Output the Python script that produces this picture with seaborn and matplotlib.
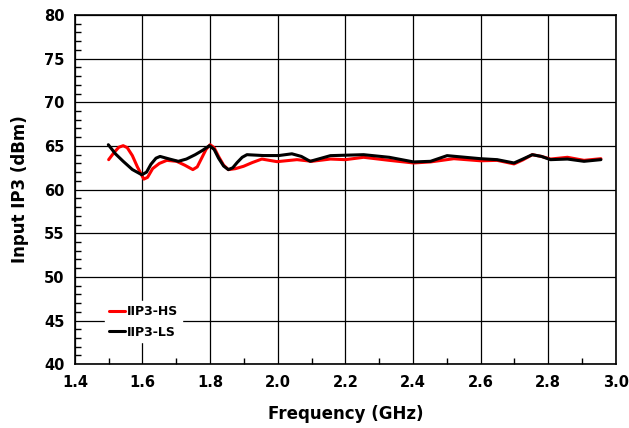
import numpy as np
import pandas as pd
import matplotlib.pyplot as plt
import seaborn as sns
from matplotlib.ticker import MultipleLocator, FormatStrFormatter

# datos
freq_hs = [1.50, 1.515, 1.53, 1.543, 1.555, 1.57, 1.585, 1.604, 1.615, 1.63, 1.65, 1.672, 1.701, 1.725,
           1.749, 1.762, 1.775, 1.788, 1.80, 1.812, 1.825, 1.84, 1.854, 1.875, 1.899, 1.925,
           1.953, 1.998, 2.057, 2.101, 2.156, 2.20, 2.254, 2.33, 2.402, 2.452, 2.521, 2.60, 2.649, 2.699,
           2.725, 2.753, 2.78, 2.807, 2.857, 2.906, 2.956]
iip3_hs = [63.43, 64.2, 64.85, 65.03, 64.8, 63.9, 62.6, 61.2, 61.4, 62.4, 63.0, 63.35, 63.24, 62.8,
           62.29, 62.6, 63.6, 64.6, 65.14, 64.8, 63.8, 62.8, 62.29, 62.4, 62.67, 63.1,
           63.5, 63.2, 63.43, 63.24, 63.5, 63.43, 63.7, 63.35, 63.05, 63.17, 63.54, 63.3, 63.35, 62.94,
           63.4, 64.0, 63.8, 63.5, 63.7, 63.35, 63.54]

freq_ls = [1.499, 1.52, 1.543, 1.57, 1.598, 1.612, 1.625, 1.64, 1.652, 1.68, 1.706, 1.73, 1.756, 1.778,
           1.798, 1.812, 1.825, 1.84, 1.854, 1.867, 1.88, 1.895, 1.909, 1.958,
           2.003, 2.042, 2.07, 2.096, 2.156, 2.254, 2.33, 2.402, 2.452, 2.501, 2.60, 2.649, 2.699, 2.725,
           2.753, 2.78, 2.807, 2.857, 2.906, 2.956]
iip3_ls = [65.14, 64.1, 63.24, 62.3, 61.7, 62.0, 62.9, 63.6, 63.8, 63.5, 63.24, 63.5, 64.0, 64.5,
           65.03, 64.6, 63.6, 62.7, 62.29, 62.5, 63.1, 63.7, 64.0, 63.9,
           63.9, 64.1, 63.8, 63.24, 63.89, 64.0, 63.7, 63.17, 63.24, 63.89, 63.54, 63.43, 63.05, 63.5,
           64.0, 63.8, 63.43, 63.5, 63.24, 63.43]

df = pd.concat([
    pd.DataFrame({'Frequency': freq_hs, 'IIP3': iip3_hs, 'Serie': 'IIP3-HS'}),
    pd.DataFrame({'Frequency': freq_ls, 'IIP3': iip3_ls, 'Serie': 'IIP3-LS'}),
])

sns.set_style("white")
plt.rcParams['font.family'] = ['DejaVu Sans']
plt.rcParams['font.weight'] = 'bold'
plt.rcParams['text.color'] = 'black'
plt.rcParams['axes.labelcolor'] = 'black'
plt.rcParams['xtick.color'] = 'black'
plt.rcParams['ytick.color'] = 'black'

f = plt.figure(figsize=(6.29, 4.28), dpi=100)
ax = f.add_axes([0.119, 0.149, 0.860, 0.816])

sns.lineplot(data=df, x='Frequency', y='IIP3', hue='Serie', palette=['#ff0000', '#000000'],
             linewidth=2.2, sort=False, estimator=None, ax=ax)

ax.set_xlim(1.4, 3.0)
ax.set_ylim(40, 80)
ax.xaxis.set_major_locator(MultipleLocator(0.2))
ax.xaxis.set_minor_locator(MultipleLocator(0.1))
ax.xaxis.set_major_formatter(FormatStrFormatter('%.1f'))
ax.yaxis.set_major_locator(MultipleLocator(5))
ax.yaxis.set_minor_locator(MultipleLocator(1))
ax.tick_params(which='major', direction='inout', length=8, width=1, labelsize=10.5,
               color='black', labelcolor='black')
ax.tick_params(which='minor', direction='in', length=4, width=1, color='black')
ax.tick_params(axis='x', which='minor', bottom=True)
ax.tick_params(axis='y', which='minor', left=True)
for lab in ax.get_xticklabels() + ax.get_yticklabels():
    lab.set_fontweight('bold')

ax.grid(True, which='major', color='black', linewidth=0.9)
for s in ax.spines.values():
    s.set_color('black')
    s.set_linewidth(1.2)

ax.set_xlabel("Frequency (GHz)", fontsize=12, fontweight='bold', color='black', labelpad=11)
ax.set_ylabel("Input IP3 (dBm)", fontsize=12, fontweight='bold', color='black', labelpad=11)

leg = ax.legend(loc='lower left', bbox_to_anchor=(0.045, 0.045), frameon=True, fontsize=9,
                handlelength=1.3, handletextpad=0.1, borderpad=0.3, labelspacing=0.6)
leg.get_frame().set_edgecolor('white')
leg.get_frame().set_facecolor('white')
leg.get_frame().set_alpha(1)
leg.get_frame().set_boxstyle('square', pad=0.0)
for t in leg.get_texts():
    t.set_fontweight('bold')
    t.set_color('black')

f.savefig("out.png", dpi=100)
